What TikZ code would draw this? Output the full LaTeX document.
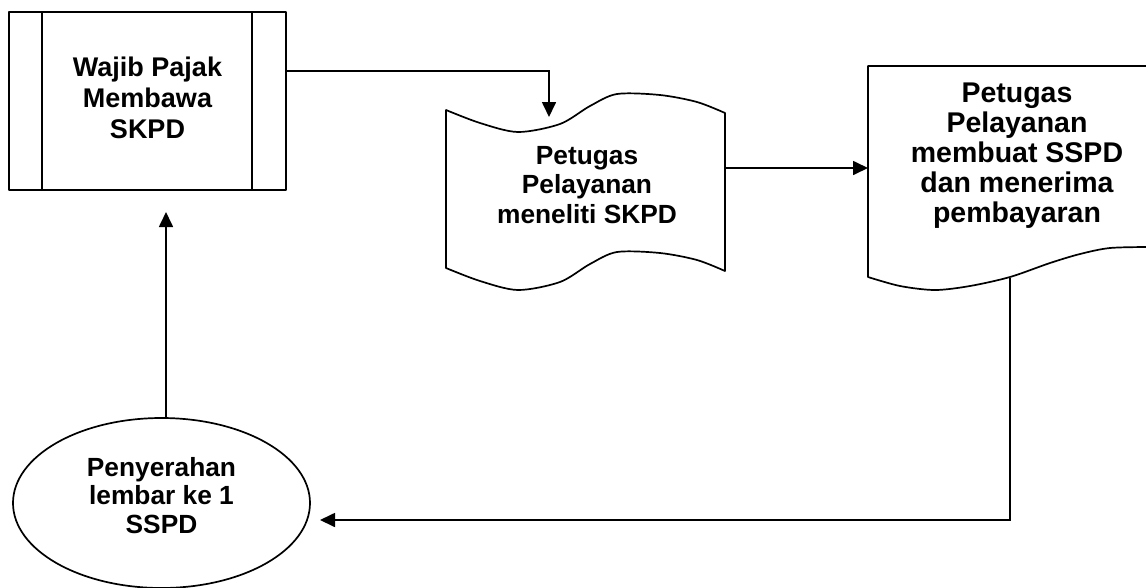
\documentclass[tikz,border=0pt]{standalone}
\usepackage{fontspec}
\setmainfont{Liberation Sans}
\usetikzlibrary{arrows.meta,shapes.geometric}
\begin{document}
\begin{tikzpicture}[x=1pt,y=-1pt,
  outline/.style={line width=1.7pt, line join=round},
  flow/.style={line width=1.7pt, -{Triangle[length=15pt,width=14pt]}},
  txt/.style={align=center, inner sep=0pt, anchor=north},
  sz/.style 2 args={font=\bfseries\fontsize{#1}{#2}\selectfont}]
\useasboundingbox (0,0) rectangle (1146,587);

% predefined process: Wajib Pajak
\node[outline, draw, minimum width=277pt, minimum height=178pt, inner sep=0pt] (wpbox) at (147.5,101) {};
\draw[outline] (42,12) -- (42,190) (252,12) -- (252,190);
\node[txt, sz={27}{31}] (wp) at (147.5,56.5) {Wajib Pajak\\Membawa\\SKPD};

% punched tape: meneliti SKPD
\draw[outline] plot[smooth] coordinates {(446,110) (480,123) (518,132) (560,124) (590,106) (617,94) (660,95) (697,102) (725,113)}
  -- plot[smooth] coordinates {(725,271) (697,260) (660,253) (617,252) (590,264) (560,282) (518,290) (480,281) (446,268)}
  -- cycle;
\node[txt, sz={26.3}{29.5}] (tape) at (587,146) {Petugas\\Pelayanan\\meneliti SKPD};
\coordinate (tapein) at (549,117);
\coordinate (tapeout) at (725,168);

% document: membuat SSPD
\draw[outline] (1150,66) -- (868,66) -- (868,277)
  -- plot[smooth] coordinates {(868,277) (900,286) (935,290) (970,286) (1010,277) (1050,263) (1080,254) (1110,248) (1150,247)};
\node[txt, sz={28.5}{29.8}] (doc) at (1017,83) {Petugas\\Pelayanan\\membuat SSPD\\dan menerima\\pembayaran};
\coordinate (docin) at (868,168);
\coordinate (docout) at (1010,278);

% terminator: Penyerahan
\node[outline, draw, ellipse, minimum width=297pt, minimum height=170pt, inner sep=0pt] (hand) at (161.5,503) {};
\node[txt, sz={26.3}{28.5}] (handtxt) at (161.5,457) {Penyerahan\\lembar ke 1\\SSPD};
\coordinate (handin) at (320,520);
\coordinate (wpin) at (166,212);

% connectors
\draw[flow] ([yshift=30pt]wpbox.east) -| (tapein);
\draw[flow] (tapeout) -- (docin);
\draw[flow] (docout) |- (handin);
\draw[flow] (hand.north -| wpin) -- (wpin);
\end{tikzpicture}
\end{document}
